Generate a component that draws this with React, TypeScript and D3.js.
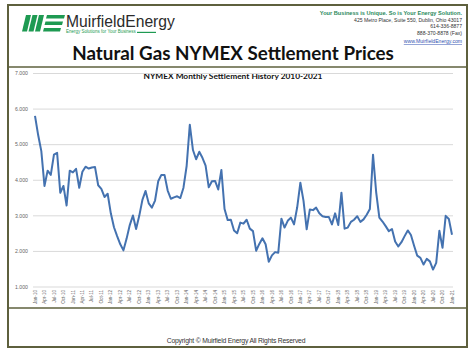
import React, { useLayoutEffect, useRef, useState } from "react";
import * as d3 from "d3";

// ---- Data (NYMEX monthly settlement, $/MMBtu) ----
const prices2010 = [5.81, 5.27, 4.82, 3.84, 4.27, 4.15, 4.72, 4.77, 3.65, 3.84, 3.29, 4.27];
const prices2011 = [4.22, 4.32, 3.79, 4.24, 4.38, 4.33, 4.36, 4.37, 3.86, 3.76, 3.53, 3.62];
const prices2012 = [3.07, 2.68, 2.43, 2.20, 2.03, 2.36, 2.74, 3.01, 2.63, 3.00, 3.45, 3.70];
const prices2013 = [3.35, 3.23, 3.43, 3.97, 4.15, 4.15, 3.71, 3.48, 3.52, 3.55, 3.50, 3.79];
const prices2014 = [4.40, 5.56, 4.85, 4.59, 4.80, 4.63, 4.41, 3.80, 3.97, 3.98, 3.74, 4.29];
const prices2015 = [3.19, 2.88, 2.89, 2.59, 2.51, 2.81, 2.78, 2.89, 2.64, 2.57, 2.02, 2.21];
const prices2016 = [2.37, 2.20, 1.71, 1.89, 1.98, 1.96, 2.92, 2.67, 2.86, 2.95, 2.76, 3.24];
const prices2017 = [3.93, 3.42, 2.62, 3.18, 3.16, 3.23, 3.07, 2.99, 2.97, 2.97, 2.76, 3.07];
const prices2018 = [2.74, 3.65, 2.64, 2.67, 2.83, 2.89, 2.99, 2.83, 2.90, 3.03, 3.19, 4.72];
const prices2019 = [3.66, 2.95, 2.84, 2.71, 2.57, 2.63, 2.28, 2.14, 2.26, 2.43, 2.59, 2.46];
const prices2020 = [2.16, 1.88, 1.82, 1.63, 1.79, 1.72, 1.49, 1.68, 2.58, 2.10, 3.00, 2.91];
const prices2021 = [2.47];

const allPrices = [
  ...prices2010, ...prices2011, ...prices2012, ...prices2013, ...prices2014, ...prices2015,
  ...prices2016, ...prices2017, ...prices2018, ...prices2019, ...prices2020, ...prices2021,
];

const startMonth = new Date(2010, 0, 1);
const months = allPrices.map((_, i) => d3.timeMonth.offset(startMonth, i));
const monthFormat = d3.timeFormat("%b-%y");
const tickEvery = 3;
const yTicks = [1, 2, 3, 4, 5, 6, 7];

const headerLines = [
  "425 Metro Place, Suite 550, Dublin, Ohio 43017",
  "614-336-8877",
  "888-370-8878 (Fax)",
];

type FitProps = {
  x: number; y: number; width: number; base: number; anchor?: "start" | "middle" | "end";
  children: string; [k: string]: any;
};

// Text whose font size is scaled once so its natural width matches `width`.
function FitText({ x, y, width, base, anchor = "start", children, ...rest }: FitProps) {
  const ref = useRef<SVGTextElement>(null);
  const [size, setSize] = useState<number | null>(null);
  useLayoutEffect(() => {
    if (size !== null) return;
    const el = ref.current;
    if (!el) return;
    const len = el.getComputedTextLength();
    setSize(len > 0 ? (base * width) / len : base);
  }, [size, base, width]);
  return (
    <text ref={ref} x={x} y={y} fontSize={size ?? base} textAnchor={anchor} {...rest}>{children}</text>
  );
}

export default function App() {
  const W = 474, H = 355;
  const x = d3.scaleLinear().domain([0, allPrices.length - 1]).range([35, 452]);
  const y = d3.scaleLinear().domain([1, 7]).range([287, 73.5]);
  const line = d3.line<number>().x((_, i) => x(i)).y((d) => y(d));
  const fmtY = d3.format(".3f");
  const frame = "#5e603d";
  const green = "#1e9a52";
  const tickIdx = d3.range(0, allPrices.length, tickEvery);

  return (
    <svg width={W} height={H} style={{ position: "absolute", left: 0, top: 0, background: "#fff" }}
      fontFamily="'Liberation Sans', Arial, sans-serif">
      <rect x={0} y={0} width={W} height={H} fill="#fff" />
      {/* frame */}
      <rect x={8} y={5} width={459} height={342} fill="none" stroke={frame} strokeWidth={2} />
      <line x1={8} x2={467} y1={67} y2={67} stroke={frame} strokeWidth={1.5} />
      <line x1={8} x2={467} y1={308} y2={308} stroke={frame} strokeWidth={1.5} />

      {/* logo */}
      <g fill={green}>
        {[0, 1, 2].map((k) => (
          <polygon key={k}
            points={`${26 + k * 6.5},15 ${31 + k * 6.5},15 ${27 + k * 6.5},31.5 ${22 + k * 6.5},31.5`} />
        ))}
        <polygon points="47,15 65,15 64,18.5 46,18.5" />
        <polygon points="45.5,21.5 63,21.5 62,25 44.5,25" />
        <polygon points="44,28 61,28 60,31.5 43,31.5" />
      </g>
      <FitText x={66} y={27.2} width={109} base={17.5} fill="#2b2b2b"
        fontFamily="'Liberation Sans Narrow', 'Liberation Sans', Arial, sans-serif">
        MuirfieldEnergy
      </FitText>
      <FitText x={66} y={33.4} width={70} base={3} fill={green}>
        Energy Solutions for Your Business
      </FitText>
      <line x1={137} x2={156} y1={32.4} y2={32.4} stroke={green} strokeWidth={1.2} />

      {/* right header */}
      <FitText x={462} y={15} width={142} base={5.6} anchor="end" fontWeight="bold" fill="#2a8a5c">
        Your Business is Unique.  So is Your Energy Solution.
      </FitText>
      {headerLines.map((t, i) => (
        <text key={t} x={462} y={21.5 + i * 6.5} fontSize={5.1} fill="#333" textAnchor="end">{t}</text>
      ))}
      <text x={462} y={43} fontSize={5.1} fill="#2f4fb0" textAnchor="end" textDecoration="underline">
        www.MuirfieldEnergy.com
      </text>

      {/* titles */}
      <FitText x={233} y={60} width={322} base={22} anchor="middle" fontWeight="bold" fill="#111"
        fontFamily="Lato, 'Open Sans', sans-serif">
        Natural Gas NYMEX Settlement Prices
      </FitText>
      <FitText x={233} y={79} width={179} base={8} anchor="middle" fontWeight="bold" fill="#111"
        fontFamily="Lato, 'Open Sans', sans-serif">
        NYMEX Monthly Settlement History 2010-2021
      </FitText>

      {/* gridlines + y labels */}
      {yTicks.map((t) => (
        <g key={t}>
          <line x1={33} x2={453} y1={y(t)} y2={y(t)} stroke="#d9d9d9" strokeWidth={1} />
          <text x={28} y={y(t)} dy="0.35em" fontSize={5.2} fill="#666" textAnchor="end">{fmtY(t)}</text>
        </g>
      ))}

      {/* x labels */}
      {tickIdx.map((i) => (
        <text key={i} transform={`translate(${x(i)},${290}) rotate(-90)`} dy="0.35em"
          fontSize={4.6} fill="#666" textAnchor="end">
          {monthFormat(months[i])}
        </text>
      ))}

      {/* series */}
      <path d={line(allPrices) ?? ""} fill="none" stroke="#4472b0" strokeWidth={2} strokeLinejoin="round" />

      {/* footer */}
      <text x={236} y={343} fontSize={6.8} fill="#333" textAnchor="middle" letterSpacing={-0.2}>
        Copyright © Muirfield Energy  All Rights Reserved
      </text>
    </svg>
  );
}
